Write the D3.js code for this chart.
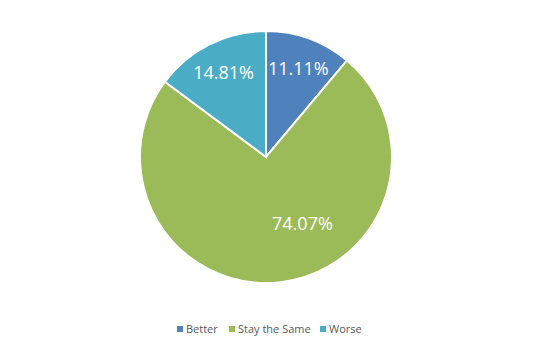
<!DOCTYPE html>
<html>
<head>
<meta charset="utf-8">
<script src="https://cdn.jsdelivr.net/npm/d3@7"></script>
<style>
  body { margin: 0; background: #fff; }
  .sliceLabel { font-family: "Open Sans", sans-serif; font-size: 18px; fill: #fff; text-anchor: middle; }
  .legendText { font-family: "Open Sans", sans-serif; font-size: 11px; fill: #595959; }
</style>
</head>
<body>
<script>
// data
var categories = ["Better", "Stay the Same", "Worse"];
var counts = [3, 20, 4];
var colors = ["#4F81BD", "#9BBB59", "#4BACC6"];

var svgWidth = 542;
var svgHeight = 345;
var cx = 266, cy = 157, radius = 126;

var svg = d3.select("body")
  .append("svg")
  .attr("width", svgWidth)
  .attr("height", svgHeight);

var pieGroup = svg.append("g")
  .attr("transform", `translate(${cx}, ${cy})`);

var total = d3.sum(counts);
var pie = d3.pie().sort(null).value(d => d);
var arcs = pie(counts);

var arc = d3.arc().innerRadius(0).outerRadius(radius);

pieGroup.selectAll(".slice")
  .data(arcs)
  .enter()
  .append("path")
  .attr("class", "slice")
  .attr("d", arc)
  .attr("fill", (d, i) => colors[i])
  .attr("stroke", "#fff")
  .attr("stroke-width", 2);

// label placement: small slices at their middle, big one nudged like excel's best fit
var labelArc = d3.arc().innerRadius(radius * 0.75).outerRadius(radius * 0.75);
var bigArc = d3.arc().innerRadius(radius * 0.6).outerRadius(radius * 0.6);

pieGroup.selectAll(".sliceLabel")
  .data(arcs)
  .enter()
  .append("text")
  .attr("class", "sliceLabel")
  .attr("transform", d => {
    var p;
    if (d.endAngle - d.startAngle > Math.PI) {
      var a = Math.PI * 0.84;
      p = bigArc.centroid({startAngle: a, endAngle: a});
    } else {
      p = labelArc.centroid(d);
    }
    return `translate(${p[0]}, ${p[1]})`;
  })
  .attr("dy", "0.35em")
  .text(d => (d.value / total * 100).toFixed(2) + "%");

// legend
var legendOffsets = [0, 52, 143];
var legend = svg.selectAll(".legendItem")
  .data(categories)
  .enter()
  .append("g")
  .attr("class", "legendItem")
  .attr("transform", (d, i) => `translate(${177 + legendOffsets[i]}, 329)`);

legend.append("rect")
  .attr("x", 0)
  .attr("y", -3)
  .attr("width", 6)
  .attr("height", 6)
  .attr("fill", (d, i) => colors[i]);

legend.append("text")
  .attr("class", "legendText")
  .attr("x", 9)
  .attr("dy", "0.35em")
  .text(d => d);
</script>
</body>
</html>
